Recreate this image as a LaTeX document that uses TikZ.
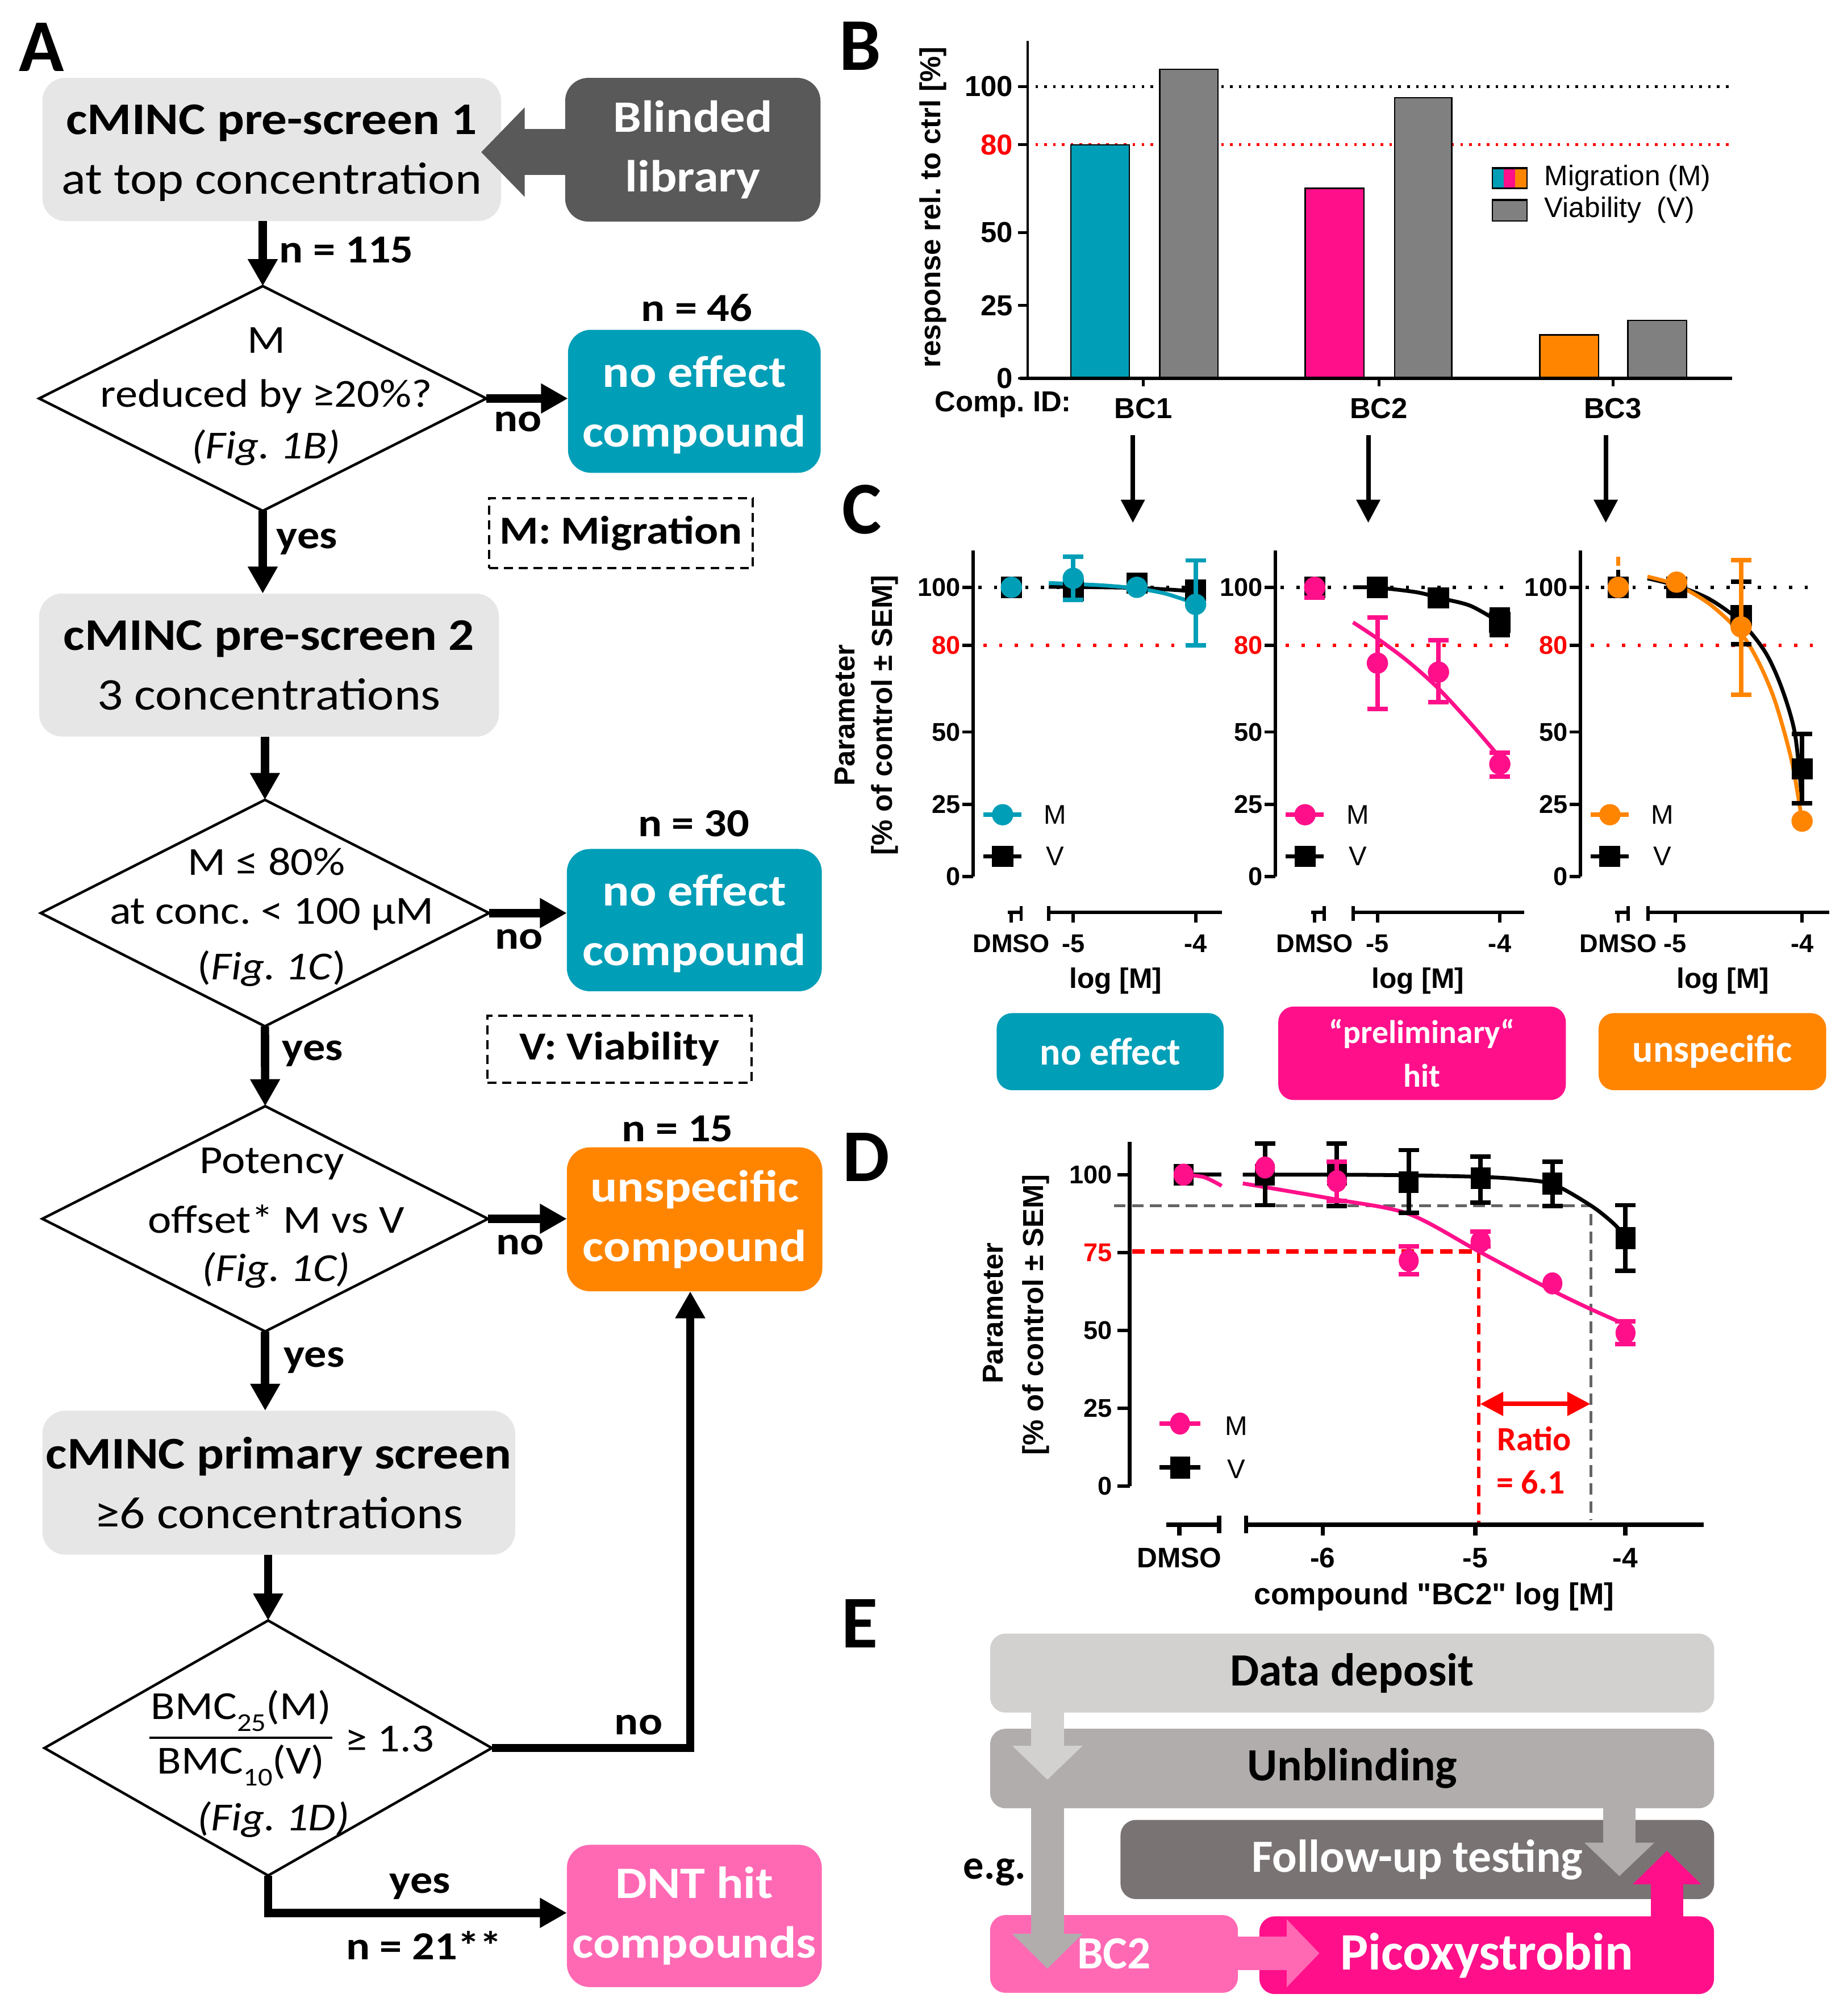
\documentclass[tikz,border=0pt]{standalone}
\usepackage{fontspec}
\setmainfont{Carlito}
\newfontfamily\crl{Carlito}
\newfontfamily\crlS[FakeStretch=1.12]{Carlito}
\newfontfamily\ari{Liberation Sans}
\usetikzlibrary{arrows.meta}
\frenchspacing
\definecolor{boxgray}{RGB}{231,230,230}
\definecolor{dgray}{RGB}{89,89,89}
\definecolor{tealc}{RGB}{0,158,183}
\definecolor{orangec}{RGB}{255,133,0}
\definecolor{pinkL}{RGB}{255,105,180}
\definecolor{pinkS}{RGB}{255,16,138}
\definecolor{barg}{RGB}{128,128,128}
\definecolor{egA}{RGB}{210,209,208}
\definecolor{egB}{RGB}{177,173,173}
\definecolor{egC}{RGB}{121,115,115}
\definecolor{dashg}{RGB}{100,100,100}
\newcommand\fsz[2]{\fontsize{#1}{#2}\selectfont}
\newcommand\subs[1]{\raisebox{-0.3em}{\fsz{20}{20}#1}}
\newcommand\sqm[2][black]{\fill[#1] (#2) ++(-8.25pt,-8.25pt) rectangle ++(16.5pt,16.5pt);}
\newcommand\sqd[2][black]{\fill[#1] (#2) ++(-7.75pt,-8.5pt) rectangle ++(15.5pt,17pt);}
\newcommand\cim[2]{\fill[#1] (#2) circle[radius=8.3pt];}
\newcommand\cid[2]{\fill[#1] (#2) ellipse[x radius=7.8pt, y radius=8.6pt];}
\newcommand\eb[4]{\draw[#1, line width=3.5pt] (#2,#3) -- (#2,#4) ([xshift=-8pt]#2,#3) -- ([xshift=8pt]#2,#3) ([xshift=-8pt]#2,#4) -- ([xshift=8pt]#2,#4);}
\tikzset{
  fl/.style={line width=6.5pt, -{Triangle[length=21pt,width=22pt]}},
  fbase/.style={rounded corners=18pt, align=center},
  gbox/.style={fbase, fill=boxgray, font=\crlS\fsz{35.3}{46.5}},
  cbox/.style={fbase, text=white, font=\crlS\bfseries\fsz{35}{46.5}},
  lbl/.style={font=\crlS\bfseries\fsz{31}{31}},
  dtx/.style={font=\crlS\fsz{31}{31}},
  dtxi/.style={font=\crlS\itshape\fsz{31}{31}},
  dbox/.style={draw, line width=1.8pt, dash pattern=on 7pt off 4.5pt, font=\crlS\bfseries\fsz{31}{31}},
  dia/.style={draw, line width=2pt},
  panel/.style={font=\crl\bfseries\fsz{58}{58}},
  bt/.style={font=\ari\bfseries\fsz{22.5}{22.5}},
  ctick/.style={font=\ari\bfseries\fsz{20}{20}},
  clog/.style={font=\ari\bfseries\fsz{22}{22}},
  cleg/.style={font=\ari\fsz{21}{21}},
  ylab/.style={rotate=90, font=\ari\bfseries\fsz{22.5}{22.5}},
  axC/.style={line width=2.6pt},
  dotC/.style={line width=2.5pt, dash pattern=on 2.5pt off 9.7pt},
  dotB/.style={line width=2.2pt, dash pattern=on 2pt off 4.9pt},
  bar/.style={draw=black, line width=1pt},
  curve/.style={line width=3pt},
  bcarrow/.style={line width=3.5pt, -{Triangle[length=18pt,width=18pt]}},
  lbox/.style={rounded corners=12pt, text=white, align=center},
  ebox/.style={rounded corners=12pt, font=\crl\bfseries\fsz{36}{36}},
}
\newcommand\caxes[5]{%
  \draw[dotC] (4,100) -- (186,100);
  \draw[dotC, red] (8,80) -- (186,80);
  \draw[axC] (0,0) -- (0,112.7);
  \foreach \v in {0,25,50,100}{%
    \draw[axC] (-8.5,\v) -- (0,\v);
    \node[ctick, anchor=east] (#1t\v) at (-10,\v) {\v};}
  \draw[axC] (-8.5,80) -- (0,80);
  \node[ctick, anchor=east, text=red] (#1t80) at (-10,80) {80};
  \draw[axC] (#2-2.6,-12.42) -- (#2+7.6,-12.42);
  \draw[axC] (#2+7.6,-10.16) -- (#2+7.6,-15.21);
  \draw[axC] (#2,-12.42) -- (#2,-15.83);
  \draw[axC] (#5,-10.16) -- (#5,-15.21);
  \draw[axC] (#5,-12.42) -- (194,-12.42);
  \draw[axC] (#3,-12.42) -- (#3,-15.83);
  \draw[axC] (#4,-12.42) -- (#4,-15.83);
  \node[ctick] (#1dm) at (#2,-23.1) {DMSO};
  \node[ctick] (#1m5) at (#3,-23.1) {-5};
  \node[ctick] (#1m4) at (#4,-23.1) {-4};
  \node[clog] (#1lg) at (111,-36.05) {log [M]};
}
\newcommand\cleg[2]{%
  \draw[line width=3.5pt, #2] (8,21.4) -- (37.5,21.4);
  \fill[#2] (23,21.4) circle[radius=8.3pt];
  \node[cleg] (#1lM) at (64,21.4) {M};
  \draw[line width=3.5pt] (8,7) -- (37.5,7);
  \sqm{23,7}
  \node[cleg] (#1lV) at (64,7) {V};
}
\begin{document}
\begin{tikzpicture}[x=1pt,y=-1pt, every node/.style={inner sep=0pt, outer sep=0pt}]
\useasboundingbox (0,0) rectangle (1440,1567.5);
% ---------- panel letters
\node[panel] (LA) at (32.4,36.7) {A};
\node[panel] (LB) at (670.5,36) {B};
\node[panel] (LC) at (672,397) {C};
\node[panel] (LD) at (675,902) {D};
\node[panel] (LE) at (670,1265.4) {E};
% ---------- panel A: flowchart
\node[gbox, text depth=-4.5pt, minimum width=357.6pt, minimum height=111.6pt] (B1) at (211.8,116.5) {{\bfseries cMINC pre-screen 1}\\at top concentration};
\node[cbox, fill=dgray, minimum width=199pt, minimum height=112pt] (BL) at (540,116.7) {Blinded\\library};
\coordinate (BLs) at (445,118.6);
\coordinate (BLt) at (375,118.6);
\draw[dgray, line width=36pt, -{Triangle[length=34pt,width=67.8pt]}] (BLs) -- (BLt);
\node[minimum width=348.6pt, minimum height=175.2pt] (D1) at (204.8,310.6) {};
\draw[dia] (D1.north) -- (D1.east) -- (D1.south) -- (D1.west) -- cycle;
\node[dtx] (D1a) at (207.6,265.4) {M};
\node[dtx] (D1b) at (207.6,309.2) {reduced by ≥20\%?};
\node[dtxi] (D1c) at (207.6,348.8) {(Fig. 1B)};
\node[cbox, fill=tealc, text depth=0.5pt, minimum width=197pt, minimum height=111.5pt] (NE1) at (541.2,312.8) {no effect\\compound};
\node[dbox, minimum width=205.5pt, minimum height=54.5pt] (MM) at (484,415.5) {M: Migration};
\node[gbox, minimum width=358.4pt, minimum height=111.5pt] (B2) at (209.7,518.4) {{\bfseries cMINC pre-screen 2}\\3 concentrations};
\node[minimum width=349.4pt, minimum height=176.5pt] (D2) at (206.5,711.7) {};
\draw[dia] (D2.north) -- (D2.east) -- (D2.south) -- (D2.west) -- cycle;
\node[dtx] (D2a) at (207.7,671.5) {M ≤ 80\%};
\node[dtx] (D2b) at (211.8,712.5) {at conc. < 100 µM};
\node[dtx] (D2c) at (211.8,754.8) {(\textit{Fig. 1C})};
\node[cbox, fill=tealc, text depth=0.5pt, minimum width=198.7pt, minimum height=110.9pt] (NE2) at (541.2,717.2) {no effect\\compound};
\node[dbox, minimum width=205.8pt, minimum height=52.2pt] (VV) at (482.9,817.7) {V: Viability};
\node[minimum width=347.4pt, minimum height=175.6pt] (D3) at (206.7,950) {};
\draw[dia] (D3.north) -- (D3.east) -- (D3.south) -- (D3.west) -- cycle;
\node[dtx] (D3a) at (211.8,907.3) {Potency};
\node[dtx] (D3b) at (215.2,950) {offset* M vs V};
\node[dtxi] (D3c) at (215.2,990) {(Fig. 1C)};
\node[cbox, fill=orangec, minimum width=199.1pt, minimum height=112.2pt] (US) at (541.4,950.4) {unspecific\\compound};
\node[gbox, text depth=-7pt, minimum width=368.6pt, minimum height=112.2pt] (B3) at (217.3,1155.7) {{\bfseries cMINC primary screen}\\≥6 concentrations};
\node[minimum width=348.7pt, minimum height=198.8pt] (D4) at (209,1362.5) {};
\draw[dia] (D4.north) -- (D4.east) -- (D4.south) -- (D4.west) -- cycle;
\node[dtx] (frN) at (187.9,1333.5) {BMC\subs{25}(M)};
\node[dtx] (frD) at (187.9,1376) {BMC\subs{10}(V)};
\draw[line width=1.8pt] (116.5,1354.4) -- (259.2,1354.4);
\node[dtx] (frG) at (303.7,1355.3) {≥ 1.3};
\node[dtxi] (D4c) at (213.1,1418.4) {(Fig. 1D)};
\node[cbox, fill=pinkL, minimum width=198.7pt, minimum height=110.9pt] (DNT) at (541.2,1493.4) {DNT hit\\compounds};
% connectors
\draw[fl] (D1.north |- B1.south) -- (D1.north);
\draw[fl] (D1.east) -- (NE1.west |- D1.east);
\draw[fl] (D1.south) -- (D1.south |- B2.north);
\draw[fl] (D2.north |- B2.south) -- (D2.north);
\draw[fl] (D2.east) -- (NE2.west |- D2.east);
\draw[fl] (D2.south) -- (D3.north);
\draw[fl] (D3.east) -- (US.west |- D3.east);
\draw[fl] (D3.south) -- (D3.south |- B3.north);
\draw[fl] (D4.north |- B3.south) -- (D4.north);
\draw[fl] (D4.east) -| ([xshift=-3.4pt]US.south);
\draw[fl] (D4.south) |- ([yshift=2.4pt]DNT.west);
% labels
\node[lbl] (n115) at (270,195) {n = 115};
\node[lbl] (no1) at (403.5,329) {no};
\node[lbl] (n46) at (543,240) {n = 46};
\node[lbl] (yes1) at (239.3,422.2) {yes};
\node[lbl] (no2) at (404.5,732.3) {no};
\node[lbl] (n30) at (540.7,641.9) {n = 30};
\node[lbl] (yes2) at (243.7,821.2) {yes};
\node[lbl] (no3) at (405.4,970.4) {no};
\node[lbl] (n15) at (528,880) {n = 15};
\node[lbl] (yes3) at (244.8,1060.4) {yes};
\node[lbl] (no4) at (497.7,1344.4) {no};
\node[lbl] (yes4) at (327.4,1470.6) {yes};
\node[lbl] (n21) at (330.4,1516.2) {n = 21**};
% ---------- panel B
\begin{scope}[shift={(801,294.9)}, y=2.275pt]
  \draw[dotB] (6,100) -- (549,100);
  \draw[dotB, red] (6,80) -- (549,80);
  \draw[bar, fill=tealc] (33.5,0) rectangle (79.3,80);
  \draw[bar, fill=barg] (102.9,0) rectangle (148.2,105.9);
  \draw[bar, fill=pinkS] (216.3,0) rectangle (262,65.1);
  \draw[bar, fill=barg] (285.9,0) rectangle (330.6,96.2);
  \draw[bar, fill=orangec] (399.2,0) rectangle (445,14.9);
  \draw[bar, fill=barg] (467.8,0) rectangle (513.6,19.9);
  \draw[line width=2.2pt] (0,0) -- (0,115.7);
  \foreach \v in {0,25,50,100}{%
    \draw[line width=2.2pt] (-7.6,\v) -- (0,\v);
    \node[bt, anchor=east] (bt\v) at (-11.5,\v) {\v};}
  \draw[line width=2.2pt] (-7.6,80) -- (0,80);
  \node[bt, anchor=east, text=red] (bt80) at (-11.5,80) {80};
  \draw[line width=3pt] (-6.4,0) -- (549.1,0);
  \draw[line width=2.2pt] (90.2,0) -- (90.2,-2.7);
  \draw[line width=2.2pt] (273.7,0) -- (273.7,-2.7);
  \draw[line width=2.2pt] (456.1,0) -- (456.1,-2.7);
\end{scope}
\node[ylab] (BY) at (727,161.5) {response rel. to ctrl [\%]};
\node[bt, anchor=base] (CID) at (781.9,320.8) {Comp. ID:};
\node[bt, anchor=base] (BC1) at (891.2,326.2) {BC1};
\node[bt, anchor=base] (BC2) at (1074.7,326.2) {BC2};
\node[bt, anchor=base] (BC3) at (1257.1,326.2) {BC3};
\fill[tealc] (1163.1,130.6) rectangle (1172.1,146.8);
\fill[pinkS] (1172.1,130.6) rectangle (1181.1,146.8);
\fill[orangec] (1181.1,130.6) rectangle (1190.1,146.8);
\draw[line width=1pt] (1163.1,130.6) rectangle (1190.1,146.8);
\draw[line width=2pt] (1163.1,131) -- (1190.1,131);
\draw[line width=1pt, fill=barg] (1163.1,155.4) rectangle (1190.1,172.2);
\draw[line width=2pt] (1163.1,155.8) -- (1190.1,155.8);
\node[cleg, anchor=west, font=\ari\fsz{22}{22}] (LgM) at (1203.8,139) {Migration (M)};
\node[cleg, anchor=west, font=\ari\fsz{22}{22}] (LgV) at (1203.8,163.8) {Viability\ \ (V)};
% arrows B -> C
\coordinate (a1s) at (883,339.4); \coordinate (a1t) at (883,407.5);
\coordinate (a2s) at (1066.5,339.4); \coordinate (a2t) at (1066.5,407.5);
\coordinate (a3s) at (1251.6,339.4); \coordinate (a3t) at (1251.6,407.5);
\draw[bcarrow] (a1s) -- (a1t);
\draw[bcarrow] (a2s) -- (a2t);
\draw[bcarrow] (a3s) -- (a3t);
% ---------- panel C
\node[ylab] (CY1) at (658.6,557.5) {Parameter};
\node[ylab] (CY2) at (689.8,557.5) {[\% of control ± SEM]};
\begin{scope}[shift={(758.5,683.3)}, y=2.255pt]
  \caxes{ca}{29.8}{78}{173.4}{59}
  \draw[curve] plot[smooth] coordinates {(59,100.2) (127.6,99.8) (173.4,98.6)};
  \draw[curve, tealc] plot[smooth] coordinates {(59,101.5) (100,100.7) (127.6,99.6) (150,97.8) (173.4,94.4)};
  \eb{black}{78}{96.5}{101.5}
  \sqm{29.8,100} \sqm{78,99} \sqm{127.6,101.5} \sqm{173.4,99}
  \eb{tealc}{78}{95.6}{110.5}
  \eb{tealc}{173.4}{80}{109.3}
  \cim{tealc}{29.8,100} \cim{tealc}{78,103.1} \cim{tealc}{127.6,100} \cim{tealc}{173.4,94.1}
  \cleg{ca}{tealc}
\end{scope}
\begin{scope}[shift={(994.2,683.3)}, y=2.255pt]
  \caxes{cb}{30.5}{79.4}{174.8}{60.4}
  \draw[curve] plot[smooth] coordinates {(60.4,100) (79.4,99.9) (110,98.3) (129,96.2) (152,93.6) (174.8,87.9)};
  \draw[curve, pinkS] plot[smooth] coordinates {(60.4,87.9) (79.4,82.3) (103,74.5) (127,65) (153,52.5) (174.8,41.2)};
  \eb{black}{79.4}{97}{103}
  \eb{black}{174.8}{83.4}{92.4}
  \sqm{30.5,100} \sqm{79.4,100} \sqm{127,96.4} \sqm{174.8,87.9}
  \eb{pinkS}{30.5}{96.5}{100}
  \eb{pinkS}{79.4}{58}{89.6}
  \eb{pinkS}{127}{60.3}{81.7}
  \eb{pinkS}{174.8}{34.6}{42.8}
  \cim{pinkS}{30.5,100} \cim{pinkS}{79.4,73.8} \cim{pinkS}{127,70.7} \cim{pinkS}{174.8,38.9}
  \cleg{cb}{pinkS}
\end{scope}
\begin{scope}[shift={(1231.8,683.3)}, y=2.255pt]
  \caxes{cc}{29.5}{74}{172.8}{52.8}
  \draw[curve] plot[smooth] coordinates {(52.3,103.1) (75.7,100.5) (101.1,95.8) (125.3,88.0) (144.4,77.4) (157.1,65.0) (167.3,49.3) (172.8,25.7)};
  \draw[curve, orangec] plot[smooth] coordinates {(52.3,103.7) (75.7,100.7) (101.1,94.1) (125.3,84.0) (139.3,73.8) (152,60.3) (164.7,40.0) (172.8,19.2)};
  \draw[line width=3pt] (29.5,102) -- (29.5,106);
  \eb{black}{125.3}{80.4}{102}
  \eb{black}{172.8}{25.4}{49.3}
  \sqm{29.5,100} \sqm{75,100} \sqm{125.3,90.2} \sqm{172.8,37.2}
  \draw[line width=3pt, orangec] (29.5,107.5) -- (29.5,110.5);
  \eb{orangec}{125.3}{62.8}{109.4}
  \cim{orangec}{29.5,100} \cim{orangec}{75,101.8} \cim{orangec}{125.3,86.3} \cim{orangec}{172.8,19.2}
  \cleg{cc}{orangec}
\end{scope}
\node[lbox, fill=tealc, font=\crl\bfseries\fsz{30}{30}, minimum width=176.9pt, minimum height=60.1pt] (NEc) at (865.3,819.7) {no effect};
\node[lbox, fill=pinkS, font=\crl\bfseries\fsz{25.5}{34}, minimum width=224.1pt, minimum height=72.9pt] (PHc) at (1108.4,821) {“preliminary“\\hit};
\node[lbox, fill=orangec, font=\crl\bfseries\fsz{30}{30}, minimum width=177.4pt, minimum height=60.1pt] (USc) at (1334.7,819.7) {unspecific};
% ---------- panel D
\node[ylab] (DY1) at (774.3,1023.6) {Parameter};
\node[ylab] (DY2) at (807.3,1025) {[\% of control ± SEM]};
\begin{scope}[shift={(880.5,1158.4)}, y=2.428pt]
  \draw[line width=2.8pt] (0,0) -- (0,110.5);
  \foreach \v in {0,25,50,100}{%
    \draw[line width=2.8pt] (-9.7,\v) -- (0,\v);
    \node[ctick, anchor=east] (dt\v) at (-13.5,\v) {\v};}
  \draw[line width=2.8pt] (-9.7,75) -- (0,75);
  \node[ctick, anchor=east, text=red] (dt75) at (-13.5,75) {75};
  \draw[line width=3.6pt] (28.5,-12.36) -- (69.7,-12.36);
  \draw[line width=3.2pt] (38.7,-12.36) -- (38.7,-15.8);
  \draw[line width=3.2pt] (69.7,-9.43) -- (69.7,-15.16);
  \draw[line width=3.2pt] (90.8,-9.43) -- (90.8,-15.16);
  \draw[line width=3.6pt] (90.8,-12.36) -- (447.3,-12.36);
  \foreach \t in {150.5,269.4,386.3} \draw[line width=3.2pt] (\t,-12.36) -- (\t,-15.8);
  \node[ctick, font=\ari\bfseries\fsz{22}{22}] (ddm) at (38.7,-23) {DMSO};
  \node[ctick, font=\ari\bfseries\fsz{22}{22}] (dm6) at (150.5,-23) {-6};
  \node[ctick, font=\ari\bfseries\fsz{22}{22}] (dm5) at (269.4,-23) {-5};
  \node[ctick, font=\ari\bfseries\fsz{22}{22}] (dm4) at (386.3,-23) {-4};
  \draw[dashg, line width=2.5pt, dash pattern=on 9pt off 5pt] (-12.2,90) -- (359.6,90) -- (359.6,-10.9);
  \draw[red, line width=3.5pt, dash pattern=on 10pt off 5pt] (1.8,75.4) -- (272,75.4);
  \draw[red, line width=2.5pt, dash pattern=on 9pt off 5pt] (272,75.4) -- (272,-11.7);
  \draw[red, line width=3.5pt, {Triangle[length=18pt,width=18pt]}-{Triangle[length=18pt,width=18pt]}] (273.2,26.4) -- (359.1,26.4);
  \draw[curve] (42,100) -- (71.7,100);
  \draw[curve] plot[smooth] coordinates {(88.2,100) (160,100) (217.5,99.8) (272.8,99.3) (302,98.6) (330,96.9) (359.4,90.1) (375.9,84.8) (386.8,80.1)};
  \draw[curve, pinkS] plot[smooth] coordinates {(42,100) (58,99.2) (71.7,96.4)};
  \draw[curve, pinkS] plot[smooth] coordinates {(88.2,97.2) (160,92.1) (217.5,87.4) (272,75.4) (329.5,62.8) (359.6,56.8) (386.5,51.9)};
  \eb{black}{105.5}{90.2}{110}
  \eb{black}{161.5}{90}{110}
  \eb{black}{217.5}{87.7}{107.9}
  \eb{black}{273.5}{91.1}{105.8}
  \eb{black}{329.5}{90}{104.2}
  \eb{black}{386.5}{69.1}{90.2}
  \sqd{42,100} \sqd{105.5,100} \sqd{161.5,100} \sqd{217.5,97.6} \sqd{273.5,98.9} \sqd{329.5,97.1} \sqd{386.5,79.6}
  \eb{pinkS}{161.5}{91.6}{104.2}
  \eb{pinkS}{217.5}{68}{77}
  \eb{pinkS}{273.5}{77}{81.7}
  \eb{pinkS}{386.5}{45.6}{52.9}
  \cid{pinkS}{42,100} \cid{pinkS}{105.5,102.3} \cid{pinkS}{161.5,97.9} \cid{pinkS}{217.5,72.4} \cid{pinkS}{273.5,78.5} \cid{pinkS}{329.5,65.1} \cid{pinkS}{386.5,49.2}
  \draw[line width=3.5pt, pinkS] (23.4,20.1) -- (55.2,20.1);
  \cid{pinkS}{39.2,20.1}
  \node[cleg] (dlM) at (83.2,19.4) {M};
  \draw[line width=3.5pt] (23.4,5.97) -- (55.2,5.97);
  \sqd{39.2,5.97}
  \node[cleg] (dlV) at (83.2,5.5) {V};
\end{scope}
\node[font=\crl\bfseries\fsz{26.5}{26.5}, text=red] (ratio) at (1195.7,1121.5) {Ratio};
\node[font=\crl\bfseries\fsz{26.5}{26.5}, text=red] (ratv) at (1193.1,1155.3) {= 6.1};
\node[clog, font=\ari\bfseries\fsz{23.6}{23.6}] (dxl) at (1117.9,1244.8) {compound "BC2" log [M]};
% ---------- panel E
\node[ebox, fill=egA, minimum width=564.3pt, minimum height=61.6pt] (DD) at (1053.9,1304.1) {Data deposit};
\node[ebox, fill=egB, minimum width=564.3pt, minimum height=62pt] (UB) at (1053.9,1378.5) {Unblinding};
\node[ebox, fill=egC, text=white, minimum width=462.7pt, minimum height=61.7pt] (FU) at (1104.7,1449.4) {Follow-up testing};
\node[ebox, fill=pinkL, text=white, minimum width=193.2pt, minimum height=60.6pt] (BCE) at (868.3,1523) {BC2};
\node[ebox, fill=pinkS, text=white, font=\crl\bfseries\fsz{41}{41}, minimum width=354.4pt, minimum height=60.6pt] (PX) at (1158.8,1524) {Picoxystrobin};
\node[font=\crl\bfseries\fsz{32}{32}] (EG) at (775.3,1459.3) {e.g.};
\coordinate (e1s) at (816.4,1330); \coordinate (e1t) at (816.4,1387.2);
\coordinate (e2s) at (816.4,1405); \coordinate (e2t) at (816.4,1534.5);
\coordinate (e3s) at (1262.2,1405); \coordinate (e3t) at (1262.2,1462.4);
\coordinate (e4s) at (960,1522.5); \coordinate (e4t) at (1028.4,1522.5);
\coordinate (e5s) at (1299.3,1498); \coordinate (e5t) at (1299.3,1442.6);
\draw[egA, line width=25.5pt, -{Triangle[length=26.5pt,width=53.4pt]}] (e1s) -- (e1t);
\draw[egB, line width=25.5pt, -{Triangle[length=27.2pt,width=53.4pt]}] (e2s) -- (e2t);
\draw[egB, line width=25.4pt, -{Triangle[length=26.1pt,width=52.9pt]}] (e3s) -- (e3t);
\draw[pinkL, line width=26.2pt, -{Triangle[length=25.4pt,width=51.2pt]}] (e4s) -- (e4t);
\draw[pinkS, line width=25.4pt, -{Triangle[length=26.1pt,width=51.9pt]}] (e5s) -- (e5t);
\end{tikzpicture}
\end{document}
